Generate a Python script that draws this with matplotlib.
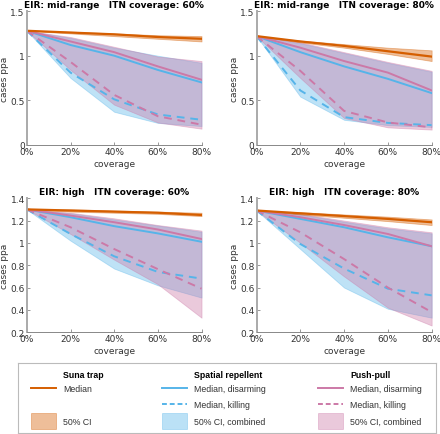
import matplotlib.pyplot as plt
from matplotlib.lines import Line2D
from matplotlib.patches import Rectangle
import numpy as np

# coverage levels (%)
coverage = [0, 20, 40, 60, 80]

titles = ["EIR: mid-range   ITN coverage: 60%", "EIR: mid-range   ITN coverage: 80%",
          "EIR: high   ITN coverage: 60%", "EIR: high   ITN coverage: 80%"]

# Suna trap median and 50% CI
suna_med = [[1.28, 1.26, 1.24, 1.21, 1.19],
            [1.22, 1.16, 1.11, 1.05, 0.99],
            [1.30, 1.29, 1.28, 1.27, 1.25],
            [1.29, 1.265, 1.24, 1.215, 1.185]]
suna_lo = [[1.28, 1.25, 1.22, 1.19, 1.16],
           [1.22, 1.15, 1.09, 1.02, 0.94],
           [1.30, 1.28, 1.27, 1.26, 1.24],
           [1.29, 1.255, 1.225, 1.195, 1.16]]
suna_hi = [[1.28, 1.27, 1.25, 1.23, 1.22],
           [1.22, 1.17, 1.13, 1.09, 1.06],
           [1.30, 1.30, 1.29, 1.28, 1.27],
           [1.29, 1.275, 1.255, 1.235, 1.21]]

# spatial repellent
sr_disarm = [[1.28, 1.12, 1.00, 0.84, 0.70],
             [1.22, 1.04, 0.88, 0.74, 0.58],
             [1.30, 1.23, 1.15, 1.085, 1.01],
             [1.29, 1.215, 1.14, 1.05, 0.97]]
sr_kill = [[1.28, 0.81, 0.51, 0.34, 0.28],
           [1.22, 0.61, 0.31, 0.245, 0.22],
           [1.30, 1.08, 0.88, 0.74, 0.68],
           [1.29, 0.99, 0.77, 0.59, 0.53]]
sr_lo = [[1.28, 0.75, 0.37, 0.245, 0.21],
         [1.22, 0.54, 0.28, 0.22, 0.20],
         [1.30, 1.02, 0.77, 0.62, 0.51],
         [1.29, 0.945, 0.60, 0.41, 0.33]]
sr_hi = [[1.28, 1.20, 1.09, 1.00, 0.92],
         [1.22, 1.14, 1.03, 0.92, 0.82],
         [1.30, 1.265, 1.21, 1.155, 1.10],
         [1.29, 1.255, 1.19, 1.13, 1.085]]

# push-pull
pp_disarm = [[1.28, 1.16, 1.04, 0.88, 0.73],
             [1.22, 1.09, 0.94, 0.81, 0.61],
             [1.30, 1.245, 1.185, 1.12, 1.035],
             [1.29, 1.23, 1.16, 1.08, 0.97]]
pp_kill = [[1.28, 0.93, 0.56, 0.32, 0.225],
           [1.22, 0.83, 0.38, 0.25, 0.195],
           [1.30, 1.14, 0.945, 0.765, 0.59],
           [1.29, 1.095, 0.855, 0.60, 0.38]]
pp_lo = [[1.28, 0.84, 0.45, 0.25, 0.18],
         [1.22, 0.75, 0.30, 0.195, 0.17],
         [1.30, 1.08, 0.85, 0.63, 0.33],
         [1.29, 1.00, 0.70, 0.42, 0.26]]
pp_hi = [[1.28, 1.21, 1.10, 0.99, 0.94],
         [1.22, 1.15, 1.04, 0.93, 0.83],
         [1.30, 1.27, 1.22, 1.16, 1.11],
         [1.29, 1.26, 1.20, 1.14, 1.095]]

ylims = [(0, 1.5), (0, 1.5), (0.2, 1.4), (0.2, 1.4)]
yticks = [[0, 0.5, 1, 1.5], [0, 0.5, 1, 1.5],
          [0.2, 0.4, 0.6, 0.8, 1, 1.2, 1.4], [0.2, 0.4, 0.6, 0.8, 1, 1.2, 1.4]]
ytick_labels = [["0", "0.5", "1", "1.5"], ["0", "0.5", "1", "1.5"],
                ["0.2", "0.4", "0.6", "0.8", "1", "1.2", "1.4"],
                ["0.2", "0.4", "0.6", "0.8", "1", "1.2", "1.4"]]

ORANGE = "#D55E00"
BLUE = "#56B4E9"
PINK = "#CC79A7"
TXT = "#333333"

fig = plt.figure(figsize=(4.4, 4.35), dpi=100)
boxes = [[0.061, 0.665, 0.397, 0.307], [0.583, 0.665, 0.398, 0.307],
         [0.061, 0.234, 0.397, 0.308], [0.583, 0.234, 0.398, 0.308]]

for i in range(4):
    ax = fig.add_axes(boxes[i])
    ax.fill_between(coverage, sr_lo[i], sr_hi[i], color=BLUE, alpha=0.38, lw=0.6)
    ax.fill_between(coverage, pp_lo[i], pp_hi[i], color=PINK, alpha=0.4, lw=0.6)
    ax.fill_between(coverage, suna_lo[i], suna_hi[i], color=ORANGE, alpha=0.4, lw=0.6)
    ax.plot(coverage, sr_disarm[i], color=BLUE, lw=1.4)
    ax.plot(coverage, pp_disarm[i], color=PINK, lw=1.4)
    ax.plot(coverage, sr_kill[i], color=BLUE, lw=1.4, ls=(0, (4, 3)))
    ax.plot(coverage, pp_kill[i], color=PINK, lw=1.4, ls=(0, (4, 3)))
    ax.plot(coverage, suna_med[i], color=ORANGE, lw=1.6)
    ax.set_xlim(0, 80)
    ax.set_ylim(*ylims[i])
    ax.set_xticks(coverage)
    ax.set_xticklabels([f"{c}%" for c in coverage])
    ax.set_yticks(yticks[i])
    ax.set_yticklabels(ytick_labels[i])
    ax.tick_params(direction="in", length=2.5, width=0.6, colors="#888888",
                   labelcolor=TXT, labelsize=6.5, pad=1.5)
    for s in ["top", "right"]:
        ax.spines[s].set_visible(False)
    ax.spines["left"].set_color("#aaaaaa")
    ax.spines["left"].set_linewidth(1.4)
    ax.spines["bottom"].set_color("#888888")
    ax.spines["bottom"].set_linewidth(0.7)
    ax.set_xlabel("coverage", fontsize=6.5, color=TXT, labelpad=2)
    ax.set_ylabel("cases ppa", fontsize=6.5, color=TXT, labelpad=1)
    ax.set_title(titles[i], fontsize=6.5, fontweight="bold", pad=3)

# legend box
lax = fig.add_axes([0.041, 0.002, 0.95, 0.161])
lax.set_xlim(0, 418)
lax.set_ylim(70, 0)
lax.set_xticks([])
lax.set_yticks([])
for s in lax.spines.values():
    s.set_color("#bbbbbb")
    s.set_linewidth(0.8)

cols = [(13, "Suna trap", ORANGE, ["Median", None]),
        (144, "Spatial repellent", BLUE, ["Median, disarming", "Median, killing"]),
        (300, "Push-pull", PINK, ["Median, disarming", "Median, killing"])]
rows_y = [11, 25, 41, 58]
fs = 6.3
lfont = "Liberation Sans"
for x0, head, col, labs in cols:
    lax.text(x0 + 32, rows_y[0], head, fontsize=fs, fontweight="bold", va="center",
             family=lfont)
    lax.add_line(Line2D([x0, x0 + 25], [rows_y[1]] * 2, color=col, lw=1.4))
    lax.text(x0 + 32, rows_y[1], labs[0], fontsize=fs, va="center", family=lfont,
             color=TXT)
    if labs[1]:
        lax.add_line(Line2D([x0, x0 + 25], [rows_y[2]] * 2, color=col, lw=1.4,
                            ls=(0, (2.5, 1.5))))
        lax.text(x0 + 32, rows_y[2], labs[1], fontsize=fs, va="center", family=lfont,
                 color=TXT)
    lax.add_patch(Rectangle((x0, rows_y[3] - 8), 25, 16, facecolor=col, alpha=0.4,
                            edgecolor=col, lw=0.6))
    lax.text(x0 + 32, rows_y[3], "50% CI" if labs[1] is None else "50% CI, combined",
             fontsize=fs, va="center", family=lfont, color=TXT)

plt.savefig("out.png", dpi=100)
